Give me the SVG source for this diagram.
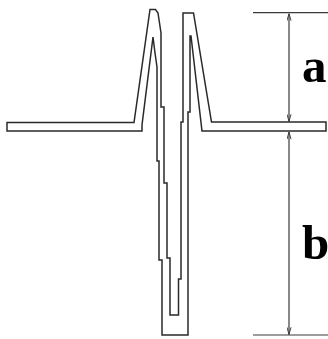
<svg xmlns="http://www.w3.org/2000/svg" width="328" height="339" viewBox="0 0 328 339">
<style>
.wire{fill:#fff;stroke:#2a2a2a;stroke-width:1.5;stroke-linejoin:miter}
.dim{fill:none;stroke:#3a3a3a;stroke-width:1.2}
.lbl{font-family:"Liberation Serif","Times New Roman",serif;font-weight:bold;font-size:49px;fill:#000}
</style>
<defs>
<marker id="ah" viewBox="0 0 10 6" refX="10" refY="3" markerWidth="8" markerHeight="5" markerUnits="userSpaceOnUse" orient="auto-start-reverse">
<path d="M1,0.5 L10,3 L1,5.5" fill="none" stroke="#3a3a3a" stroke-width="1.2"/>
</marker>
</defs>
<rect width="328" height="339" fill="#fff"/>
<g id="wire">
<path class="wire" d="M7,122.5 L134,122.5 L150,9.5 L155.5,9.5 L158,13 L161,33 L161,107 L164,107 L164,183 L167,183 L167,258 L170,258 L170,315 L178.5,315 L178.5,279 L181,279 L181,122 L183,122 L183,13 L193.5,13 L211.5,122 L326,122 L326,131 L202,131 L191,36 L190,36 L190,112 L188,112 L188,335 L162,335 L162,260 L159,260 L159,161 L157,161 L157,67 L155,53 L153,37 L142,125 L142,131 L7,131 Z"/>
</g>
<g id="connectors">
<line class="dim" x1="253" y1="12.7" x2="328" y2="12.7"/>
<line class="dim" x1="253" y1="335" x2="328" y2="335"/>
<line class="dim" x1="289" y1="13.5" x2="289" y2="121.5" marker-start="url(#ah)" marker-end="url(#ah)"/>
<line class="dim" x1="289" y1="132" x2="289" y2="334.5" marker-start="url(#ah)" marker-end="url(#ah)"/>
</g>
<g id="label-a"><text class="lbl" x="302" y="82">a</text></g>
<g id="label-b"><text class="lbl" x="302" y="259">b</text></g>
</svg>
